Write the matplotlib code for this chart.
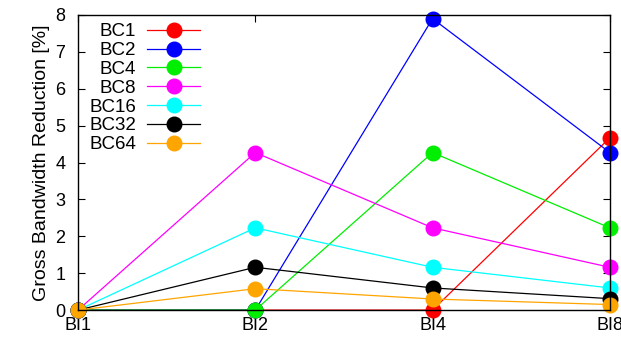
import matplotlib
matplotlib.use('Agg')
import matplotlib.pyplot as plt

plt.rcParams['font.family'] = ['Liberation Sans', 'DejaVu Sans']

categories = ['BI1', 'BI2', 'BI4', 'BI8']
series_names = ['BC1', 'BC2', 'BC4', 'BC8', 'BC16', 'BC32', 'BC64']
colors = ['#ff0000', '#0000ff', '#00ee00', '#ff00ff', '#00ffff', '#000000', '#ffa500']

bc1 = [0, 0, 0, 4.67]
bc2 = [0, 0, 7.9, 4.27]
bc4 = [0, 0, 4.27, 2.23]
bc8 = [0, 4.27, 2.23, 1.16]
bc16 = [0, 2.23, 1.16, 0.6]
bc32 = [0, 1.16, 0.6, 0.31]
bc64 = [0, 0.58, 0.3, 0.15]
values = [bc1, bc2, bc4, bc8, bc16, bc32, bc64]

fig = plt.figure(figsize=(6.21, 3.40), dpi=100)
ax = fig.add_axes([0.1256, 0.088, 0.8564, 0.868])

x = range(len(categories))
for name, col, ys in zip(series_names, colors, values):
    ax.plot(x, ys, '-o', color=col, lw=0.9, markersize=10.5, label=name, clip_on=False)

ax.set_xlim(0, 3)
ax.set_ylim(0, 8)
ax.set_xticks(list(x))
ax.set_xticklabels(categories)
ax.set_yticks(range(0, 9))
ax.tick_params(direction='in', top=True, right=True, labelsize=13, length=5)
ax.tick_params(axis='y', pad=9)
ax.tick_params(axis='x', pad=5)
ax.set_ylabel('Gross Bandwidth Reduction [%]', fontsize=14, labelpad=4)
for s in ax.spines.values():
    s.set_linewidth(1.0)

ax.legend(loc='upper left', bbox_to_anchor=(0.0, 1.01), frameon=False, markerfirst=False,
          fontsize=13.5, handlelength=2.8, handletextpad=0.6, labelspacing=0.09,
          borderaxespad=0.2)

fig.savefig('out.png', dpi=100)
